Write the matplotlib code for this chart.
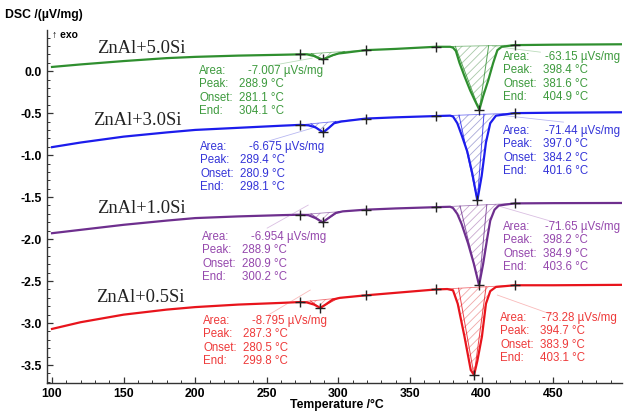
import matplotlib
matplotlib.use('Agg')
import matplotlib.pyplot as plt
from matplotlib.ticker import MultipleLocator
import numpy as np

plt.rcParams['font.family'] = ['Liberation Sans', 'DejaVu Sans']
plt.rcParams['hatch.linewidth'] = 0.6

# sample names (top to bottom)
samples = ['ZnAl+5.0Si', 'ZnAl+3.0Si', 'ZnAl+1.0Si', 'ZnAl+0.5Si']

# DSC curves (temperature in °C, DSC in µV/mg)
t_green = [100, 120, 150, 180, 200, 230, 260, 273, 278, 283, 286, 288.9, 292, 296, 300, 305, 319, 340, 368,
           378, 380, 382, 384.5, 388, 392, 395, 398.4, 401, 404.6, 408, 411, 414, 423, 450, 498]
dsc_green = [0.05, 0.08, 0.12, 0.155, 0.17, 0.185, 0.195, 0.20, 0.20, 0.18, 0.155, 0.14, 0.16, 0.19, 0.21, 0.22,
             0.25, 0.265, 0.29, 0.29, 0.28, 0.24, 0.10, -0.06, -0.23, -0.34, -0.46, -0.30, -0.11, 0.095, 0.25,
             0.29, 0.31, 0.315, 0.32]

t_blue = [100, 120, 150, 180, 200, 230, 260, 273, 279, 284, 289.4, 293, 297, 302, 319, 340, 368,
          378, 380, 383, 386, 390, 393.5, 397.0, 400, 403, 406, 410, 423, 450, 498]
dsc_blue = [-0.905, -0.85, -0.78, -0.73, -0.70, -0.675, -0.65, -0.64, -0.645, -0.67, -0.73, -0.68, -0.62, -0.60,
            -0.565, -0.55, -0.535, -0.53, -0.54, -0.62, -0.76, -0.96, -1.22, -1.54, -1.25, -0.85, -0.62, -0.53,
            -0.50, -0.495, -0.49]

t_purple = [100, 120, 150, 180, 200, 230, 260, 273, 279, 284, 288.9, 293, 298, 303, 319, 340, 368,
            378, 380, 383, 386, 390.5, 394.5, 398.2, 401, 404, 406, 409, 412, 423, 450, 498]
dsc_purple = [-1.93, -1.89, -1.83, -1.78, -1.75, -1.73, -1.715, -1.71, -1.715, -1.75, -1.80, -1.75, -1.69, -1.67,
              -1.65, -1.635, -1.62, -1.615, -1.63, -1.70, -1.82, -2.05, -2.29, -2.55, -2.30, -1.98, -1.78, -1.65,
              -1.60, -1.575, -1.572, -1.57]

t_red = [100, 120, 150, 180, 200, 230, 260, 273, 278, 283, 287.3, 291, 296, 301, 319, 340, 368,
         376, 380, 383.3, 388, 392.4, 394.7, 397, 400.2, 403, 406, 410, 423, 450, 498]
dsc_red = [-3.07, -2.99, -2.90, -2.84, -2.81, -2.78, -2.76, -2.75, -2.755, -2.78, -2.82, -2.78, -2.72, -2.70,
           -2.67, -2.64, -2.60, -2.595, -2.61, -2.77, -3.16, -3.56, -3.62, -3.45, -3.16, -2.77, -2.62, -2.57,
           -2.55, -2.55, -2.545]

# integration limits (the + marks) for the small and the large peak
small_limits = [273, 319]
big_limits = [368, 423]

# evaluation results printed on the chart
area_small = ['-7.007', '-6.675', '-6.954', '-8.795']
peak_small = [288.9, 289.4, 288.9, 287.3]
onset_small = [281.1, 280.9, 280.9, 280.5]
end_small = [304.1, 298.1, 300.2, 299.8]
area_big = ['-63.15', '-71.44', '-71.65', '-73.28']
peak_big = [398.4, 397.0, 398.2, 394.7]
onset_big = [381.6, 384.2, 384.9, 383.9]
end_big = [404.9, 401.6, 403.6, 403.1]

curves = [(t_green, dsc_green), (t_blue, dsc_blue), (t_purple, dsc_purple), (t_red, dsc_red)]
line_colors = ['#2f8f2f', '#1c1cec', '#6e2f8e', '#e8141c']
text_colors = ['#3d9a3d', '#3434d8', '#9548ad', '#ee3a3a']
hatch_colors = ['#a8c8a8', '#a8a8d8', '#c8a8d0', '#f0a8a8']

W, H = 626, 413
fig = plt.figure(figsize=(W / 100, H / 100), dpi=100)
ax = fig.add_axes([47 / W, 30 / H, 575 / W, 353 / H])
ax.set_xlim(96.5, 498)
ax.set_ylim(-3.714, 0.49)


def px2data(x, y):
    # pixel position in the image -> data coordinates (used for text placement)
    return 100 + (x - 52) / 1.431, (71 - y) / 84.0


for i, (t, d) in enumerate(curves):
    t = np.array(t)
    d = np.array(d)
    col = line_colors[i]

    # hatched peak areas between straight baseline and curve
    for lo, hi in (small_limits, big_limits):
        m = (t >= lo) & (t <= hi)
        base = np.interp(t[m], [lo, hi], [d[t == lo][0], d[t == hi][0]])
        ax.fill_between(t[m], base, d[m], where=d[m] <= base, interpolate=True, facecolor='none',
                        edgecolor=hatch_colors[i], hatch='////', lw=0)
        ax.plot([lo, hi], [d[t == lo][0], d[t == hi][0]], color=col, lw=0.6, alpha=0.6)

    ax.plot(t, d, color=col, lw=1.6)

    # tangent triangles (onset - peak - end)
    for lo, hi, on, pk, en in ((small_limits[0], small_limits[1], onset_small[i], peak_small[i], end_small[i]),
                               (big_limits[0], big_limits[1], onset_big[i], peak_big[i], end_big[i])):
        b = lambda x: np.interp(x, [lo, hi], [d[t == lo][0], d[t == hi][0]])
        ax.plot([on, pk, en], [b(on), d[t == pk][0], b(en)], color=col, lw=0.7, alpha=0.8)

    # + marks at limits and peak minima
    mk = np.isin(t, small_limits + big_limits + [peak_small[i], peak_big[i]])
    ax.plot(t[mk], d[mk], ls='none', marker='+', color='#222222', ms=6.5, mew=1.0)

# sample names
name_pos = [(97, 48), (93, 120), (97, 208), (96, 297)]
for name, (x, y) in zip(samples, name_pos):
    tx, ty = px2data(x, y)
    ax.text(tx, ty, name, family='Liberation Serif', fontsize=13.3, ha='left', va='center', color='#222222')

# evaluation text blocks
small_pos = [(199, 71), (200, 147), (202, 237), (203, 321)]
big_pos = [(503, 57), (503, 131), (503, 227), (500, 318)]
small_lead = [((312, 58), (268, 66)), ((312, 128), (268, 141)), ((308, 205), (267, 228)), ((310, 290), (268, 315))]
big_lead = [((492, 46), (540, 52)), ((500, 115), (563, 122)), ((495, 205), (557, 223)), ((497, 295), (553, 315))]

for i in range(4):
    blocks = [(small_pos[i], 49, area_small[i], peak_small[i], onset_small[i], end_small[i]),
              (big_pos[i], 42, area_big[i], peak_big[i], onset_big[i], end_big[i])]
    for (x0, y0), adx, ar, pk, on, en in blocks:
        labels = ['Area:', 'Peak:', 'Onset:', 'End:']
        values = [ar + ' \u00b5Vs/mg', f'{pk:.1f} \u00b0C', f'{on:.1f} \u00b0C', f'{en:.1f} \u00b0C']
        for k in range(4):
            yy = y0 + 13.3 * k
            tx, ty = px2data(x0, yy)
            ax.text(tx, ty, labels[k], color=text_colors[i], fontsize=8.3, ha='left', va='center')
            tx, ty = px2data(x0 + (adx if k == 0 else 40), yy)
            ax.text(tx, ty, values[k], color=text_colors[i], fontsize=8.3, ha='left', va='center')
    for (a, b) in (small_lead[i], big_lead[i]):
        p1 = px2data(*a)
        p2 = px2data(*b)
        ax.plot([p1[0], p2[0]], [p1[1], p2[1]], color=text_colors[i], lw=0.6, alpha=0.35)

# axes styling
for s in ['top', 'right']:
    ax.spines[s].set_visible(False)
for s in ['left', 'bottom']:
    ax.spines[s].set_color('#333333')
    ax.spines[s].set_linewidth(1.0)
ax.xaxis.set_major_locator(MultipleLocator(50))
ax.xaxis.set_minor_locator(MultipleLocator(10))
ax.yaxis.set_major_locator(MultipleLocator(0.5))
ax.yaxis.set_minor_locator(MultipleLocator(0.1))
ax.tick_params(which='both', direction='in', colors='#333333', labelcolor='black')
ax.tick_params(which='major', length=4, width=0.9, labelsize=8.8, pad=3.5)
ax.tick_params(which='minor', length=2, width=0.7)
for lab in ax.get_xticklabels() + ax.get_yticklabels():
    lab.set_fontweight('bold')
ax.yaxis.set_major_formatter(matplotlib.ticker.FormatStrFormatter('%.1f'))

fig.text(5 / W, 1 - 15 / H, 'DSC /(\u00b5V/mg)', fontsize=8.8, fontweight='bold', ha='left', va='center')
fig.text(337 / W, 1 - 405 / H, 'Temperature /\u00b0C', fontsize=8.8, fontweight='bold', ha='center', va='center')
fig.text(52 / W, 1 - 35 / H, '\u2191 exo', fontsize=7.5, fontweight='bold', ha='left', va='center')

fig.savefig('out.png', dpi=100)
